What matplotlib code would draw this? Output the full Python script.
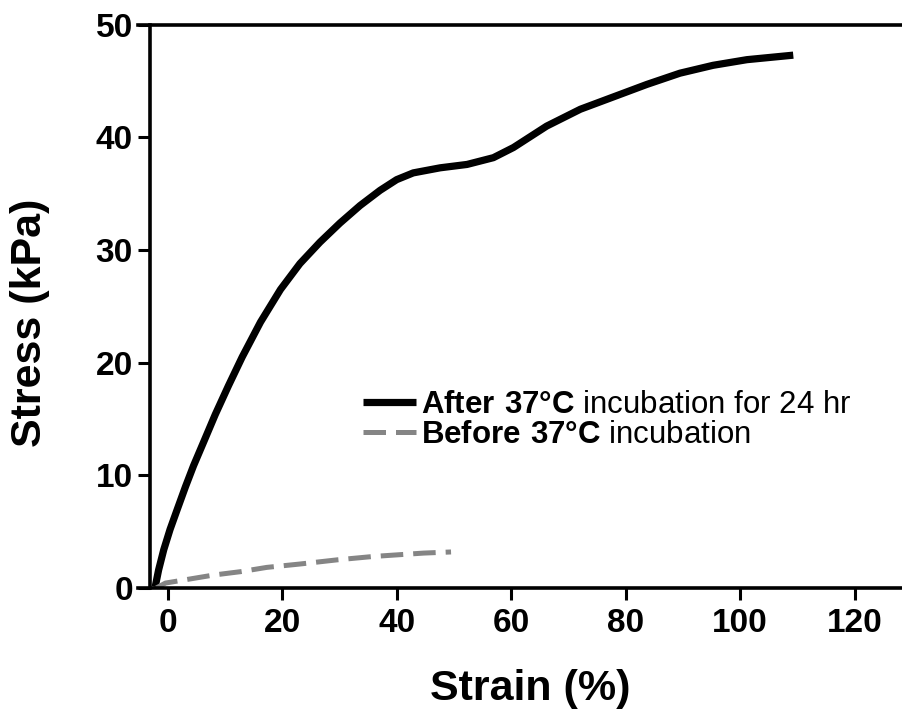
import matplotlib
matplotlib.use("Agg")
import matplotlib.pyplot as plt

# stress-strain readings (strain %, stress kPa)
after_strain = [-2.2, -1.6, -0.7, 0.4, 1.6, 3.1, 4.5, 6.3, 8.3, 10.6, 13.0, 16.2,
                19.7, 23.1, 26.6, 30.1, 33.6, 37.1, 40.0, 42.9, 47.6, 52.3, 56.9,
                60.4, 66.2, 72.1, 77.9, 83.7, 89.5, 95.3, 101.2, 109.3]
after_stress = [0.1, 1.6, 3.4, 5.2, 6.9, 9.0, 10.85, 13.0, 15.4, 17.95, 20.5, 23.6,
                26.5, 28.8, 30.7, 32.4, 33.95, 35.3, 36.25, 36.85, 37.3, 37.6, 38.2,
                39.1, 41.0, 42.5, 43.6, 44.7, 45.7, 46.4, 46.9, 47.3]

before_strain = [-2.0, -0.4, 8.0, 12.7, 17.3, 23.1, 29.6, 35.9, 44.7, 49.5]
before_stress = [0.0, 0.44, 1.15, 1.45, 1.83, 2.13, 2.5, 2.8, 3.1, 3.2]

x_ticks = [0, 20, 40, 60, 80, 100, 120]
y_ticks = [0, 10, 20, 30, 40, 50]

plt.rcParams['font.family'] = ['Liberation Sans', 'DejaVu Sans']
plt.rcParams['mathtext.fontset'] = 'custom'
plt.rcParams['mathtext.rm'] = 'Liberation Sans'
plt.rcParams['mathtext.bf'] = 'Liberation Sans:bold'

fig = plt.figure(figsize=(9.02, 7.13), dpi=100)
ax = fig.add_axes([0.153, 0.1753, 0.847, 0.790])

ax.plot(after_strain, after_stress, color='black', lw=5.2, solid_capstyle='butt',
        solid_joinstyle='round',
        label=r'$\mathbf{After\ 37°C}$ incubation for 24 hr')
ax.plot(before_strain, before_stress, color='#858585', lw=3.6, dashes=(4.5, 2),
        label=r'$\mathbf{Before\ 37°C}$ incubation')

ax.set_xlim(-5.2, 128.3)
ax.set_ylim(0, 50)
ax.set_xticks(x_ticks)
ax.set_yticks(y_ticks)

for s in ['left', 'top', 'bottom']:
    ax.spines[s].set_linewidth(2.6)
ax.spines['right'].set_visible(False)
ax.spines['left'].set_position(('data', -3.06))

ax.tick_params(axis='both', length=8.6, width=2.2, direction='out',
               labelsize=24)
ax.tick_params(axis='x', pad=6)
ax.tick_params(axis='y', pad=4)
for lab in ax.get_xticklabels() + ax.get_yticklabels():
    lab.set_fontweight('bold')

ax.set_xlabel('Strain (%)', fontsize=31, fontweight='bold', va='center')
ax.xaxis.set_label_coords(0.514, -0.18)
ax.set_ylabel('Stress (kPa)', fontsize=31, fontweight='bold', va='center')
ax.yaxis.set_label_coords(-0.141, 0.471)

leg = ax.legend(loc='upper left', bbox_to_anchor=(0.2945, 0.352), frameon=False,
                fontsize=22.5, handlelength=1.7, handletextpad=0.15,
                labelspacing=0.02, borderpad=0, borderaxespad=0)

fig.savefig('out.png', dpi=100)
